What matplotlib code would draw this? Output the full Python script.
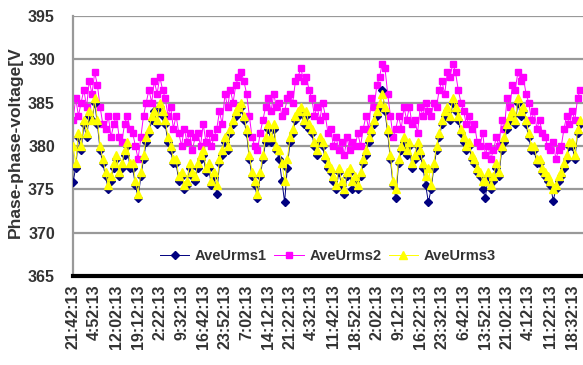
import numpy as np
import matplotlib
matplotlib.use("Agg")
import matplotlib.pyplot as plt

# Time labels shown on the category axis (one every 8 samples)
tick_labels = ["21:42:13", "4:52:13", "12:02:13", "19:12:13", "2:22:13", "9:32:13",
               "16:42:13", "23:52:13", "7:02:13", "14:12:13", "21:22:13", "4:32:13",
               "11:42:13", "18:52:13", "2:02:13", "9:12:13", "16:22:13", "23:32:13",
               "6:42:13", "13:52:13", "21:02:13", "4:12:13", "11:22:13", "18:32:13"]
samples_per_label = 8

ave_urms1 = [
    375.8, 377.5, 381.0, 379.5, 382.5, 381.0, 383.5, 383.0,
    385.0, 382.5, 379.5, 378.0, 376.5, 375.0, 376.0, 377.5,
    378.5, 376.5, 377.5, 379.0, 380.0, 377.5, 377.5, 375.5,
    374.0, 376.5, 378.5, 380.5, 381.5, 383.0, 384.0, 382.5,
    384.5, 383.5, 382.5, 380.5, 379.5, 378.0, 378.0, 376.0,
    376.5, 375.0, 375.5, 377.5, 376.5, 376.0, 377.5, 378.5,
    379.0, 377.0, 377.5, 375.5, 376.5, 374.5, 378.0, 379.0,
    380.5, 379.5, 381.5, 382.5, 383.5, 384.0, 384.5, 383.0,
    381.5, 378.5, 376.5, 375.5, 374.0, 376.5, 378.5, 380.5,
    382.0, 380.5, 382.0, 379.5, 378.5, 376.0, 373.5, 377.5,
    380.5, 381.5, 383.0, 383.5, 384.0, 382.5, 383.5, 382.0,
    381.5, 380.0, 379.0, 380.5, 380.0, 378.5, 377.5, 377.0,
    376.0, 375.0, 377.0, 375.5, 374.5, 376.5, 377.0, 375.0,
    376.0, 375.0, 376.5, 378.0, 379.0, 380.5, 381.5, 382.5,
    383.5, 384.5, 386.5, 384.0, 381.5, 378.5, 375.5, 374.0,
    378.0, 379.5, 380.5, 379.0, 380.0, 377.5, 378.5, 380.0,
    379.0, 377.5, 375.5, 373.5, 375.0, 377.5, 379.5, 381.0,
    382.5, 383.5, 384.0, 383.0, 385.0, 384.0, 383.0, 381.5,
    380.5, 379.5, 380.0, 378.5, 378.0, 377.0, 376.5, 375.0,
    374.0, 376.5, 375.0, 376.0, 377.5, 376.5, 379.5, 380.5,
    382.0, 383.0, 383.5, 382.5, 385.0, 383.5, 384.0, 382.5,
    381.0, 379.5, 379.5, 378.0, 378.0, 377.0, 376.5, 376.0,
    375.5, 373.7, 375.0, 376.0, 376.5, 377.5, 378.5, 380.0,
    380.0, 378.5, 381.5, 382.5,
]

ave_urms2 = [
    383.0, 385.5, 383.5, 385.0, 386.5, 384.5, 387.5, 386.0,
    388.5, 387.0, 384.5, 382.5, 382.0, 383.5, 381.0, 382.5,
    383.5, 381.0, 380.5, 382.5, 383.5, 382.0, 381.5, 380.0,
    378.5, 381.0, 383.5, 385.0, 386.5, 385.0, 387.5, 386.0,
    388.0, 386.5, 385.5, 383.5, 384.5, 382.0, 383.5, 381.5,
    380.0, 382.0, 380.5, 381.5, 379.5, 381.0, 381.5, 380.0,
    382.5, 380.5, 381.5, 380.0, 381.0, 382.0, 384.0, 382.5,
    386.0, 384.5, 386.5, 385.0, 387.0, 388.0, 388.5, 387.5,
    386.0, 383.5, 381.0, 380.0, 379.5, 381.5, 383.0, 384.5,
    385.5, 384.0, 386.0, 384.5, 385.0, 383.5, 384.0, 385.5,
    386.0, 385.0, 387.5, 388.0, 389.0, 387.5, 388.0, 386.5,
    385.5, 383.5, 384.5, 383.0, 385.0, 383.5, 381.5, 382.0,
    380.0, 381.0, 379.5, 380.5, 379.0, 381.0, 379.5, 380.5,
    380.0, 381.5, 380.0, 382.0, 383.5, 382.0, 385.5, 384.5,
    387.0, 388.0, 389.5, 389.0, 386.0, 383.5, 381.0, 382.0,
    383.5, 382.0, 384.5, 383.0, 384.5, 382.5, 383.0, 381.5,
    384.5, 383.5, 385.0, 384.0, 383.5, 385.0, 384.5, 386.5,
    387.5, 386.0, 388.5, 388.0, 389.5, 388.5, 386.5, 385.0,
    384.0, 382.5, 383.5, 382.0, 382.5, 380.5, 380.0, 381.5,
    379.0, 380.0, 378.5, 379.5, 381.0, 380.0, 383.0, 382.0,
    385.5, 384.5, 387.0, 386.5, 388.5, 387.5, 388.0, 386.0,
    385.0, 383.0, 384.0, 382.0, 383.0, 381.5, 381.0, 380.0,
    379.5, 380.5, 378.5, 379.5, 380.0, 382.0, 383.5, 382.5,
    384.0, 383.0, 385.5, 386.5,
]

ave_urms3 = [
    380.0, 378.0, 381.5, 380.0, 383.0, 381.5, 384.0, 383.0,
    385.5, 383.0, 380.0, 378.5, 377.0, 375.5, 376.5, 378.0,
    379.0, 377.0, 378.0, 379.5, 380.5, 378.0, 378.0, 376.0,
    374.5, 377.0, 379.0, 381.0, 382.0, 383.5, 384.0, 383.0,
    385.0, 384.0, 383.0, 381.0, 380.0, 378.5, 378.5, 376.5,
    377.0, 375.5, 376.0, 378.0, 377.0, 376.5, 378.0, 379.0,
    379.5, 377.5, 378.0, 376.0, 377.0, 375.5, 378.5, 379.5,
    381.0, 380.0, 382.0, 383.0, 384.0, 384.5, 385.0, 383.5,
    382.0, 379.0, 377.0, 376.0, 374.5, 377.0, 379.0, 381.0,
    382.5, 381.0, 382.5, 380.0, 379.5, 378.0, 376.0, 378.5,
    381.0, 382.0, 383.5, 384.0, 384.5, 383.0, 384.0, 382.5,
    382.0, 380.5, 379.5, 381.0, 380.5, 379.0, 378.0, 377.5,
    376.5, 375.5, 377.5, 376.0, 375.0, 377.0, 377.5, 376.0,
    376.5, 375.5, 377.0, 378.5, 379.5, 381.0, 382.0, 383.0,
    384.0, 385.0, 386.0, 384.5, 382.0, 379.0, 376.0, 375.0,
    378.5, 380.0, 381.0, 379.5, 380.5, 378.0, 379.0, 380.5,
    379.5, 378.0, 376.5, 377.5, 375.5, 378.0, 380.0, 381.5,
    383.0, 384.0, 384.5, 383.5, 385.5, 384.5, 383.5, 382.0,
    381.0, 380.0, 380.5, 379.0, 378.5, 377.5, 377.0, 376.0,
    376.0, 377.0, 375.5, 376.5, 378.0, 377.0, 380.0, 381.0,
    382.5, 383.5, 384.0, 383.0, 385.5, 384.0, 384.5, 383.0,
    381.5, 380.0, 380.0, 378.5, 378.5, 377.5, 377.0, 376.5,
    376.0, 375.0, 375.5, 376.5, 377.0, 378.0, 379.0, 380.5,
    380.5, 379.0, 382.0, 383.0,
]

font = "Liberation Sans"
grey_text = "#333333"

fig = plt.figure(figsize=(5.83, 3.65), dpi=100)
ax = fig.add_axes([73 / 583, 89 / 365, 1 - 73 / 583, 260 / 365])

x = np.arange(len(ave_urms1))
ax.plot(x, ave_urms1, color="#000080", lw=0.7, marker="D", ms=3.8,
        mec="#000080", mfc="#000080", label="AveUrms1", zorder=3)
ax.plot(x, ave_urms2, color="#FF00FF", lw=0.7, marker="s", ms=5.0,
        mec="#FF00FF", mfc="#FF00FF", label="AveUrms2", zorder=2)
ax.plot(x, ave_urms3, color="#FFFF00", lw=0.7, marker="^", ms=5.5,
        mec="#FFFF00", mfc="#FFFF00", label="AveUrms3", zorder=4)

ax.set_ylim(365, 395)
ax.set_yticks(np.arange(365, 396, 5))
ax.set_xlim(0, len(x))
ax.set_xticks(np.arange(len(tick_labels)) * samples_per_label)
ax.set_xticklabels(tick_labels, rotation=90, fontfamily=font, fontsize=11.5,
                   fontweight="bold", color=grey_text)
for t in ax.get_yticklabels():
    t.set_fontfamily(font)
    t.set_fontsize(11.5)
    t.set_fontweight("bold")
    t.set_color(grey_text)

ax.grid(axis="y", color="#999999", lw=1.6)
ax.set_axisbelow(True)
ax.tick_params(axis="both", length=0, pad=6)
ax.tick_params(axis="y", pad=13)
for side in ("top", "right"):
    ax.spines[side].set_visible(False)
ax.spines["left"].set_color("#999999")
ax.spines["left"].set_linewidth(1.6)
ax.spines["bottom"].set_color("black")
ax.spines["bottom"].set_linewidth(3)

fig.text(15 / 583, 1 - 142 / 365, "Phase-phase-voltage[V", rotation=90,
         ha="center", va="center", fontfamily=font, fontsize=12.5,
         fontweight="bold", color=grey_text)

leg = ax.legend(loc="center", bbox_to_anchor=(0.50, (256 - 16) / 260 * -1 + 1),
                ncol=3, frameon=False, handlelength=2.0, handletextpad=0.4,
                columnspacing=0.5,
                prop={"family": font, "size": 10.5, "weight": "bold"})
for t in leg.get_texts():
    t.set_color(grey_text)

fig.savefig("out.png", dpi=100)
